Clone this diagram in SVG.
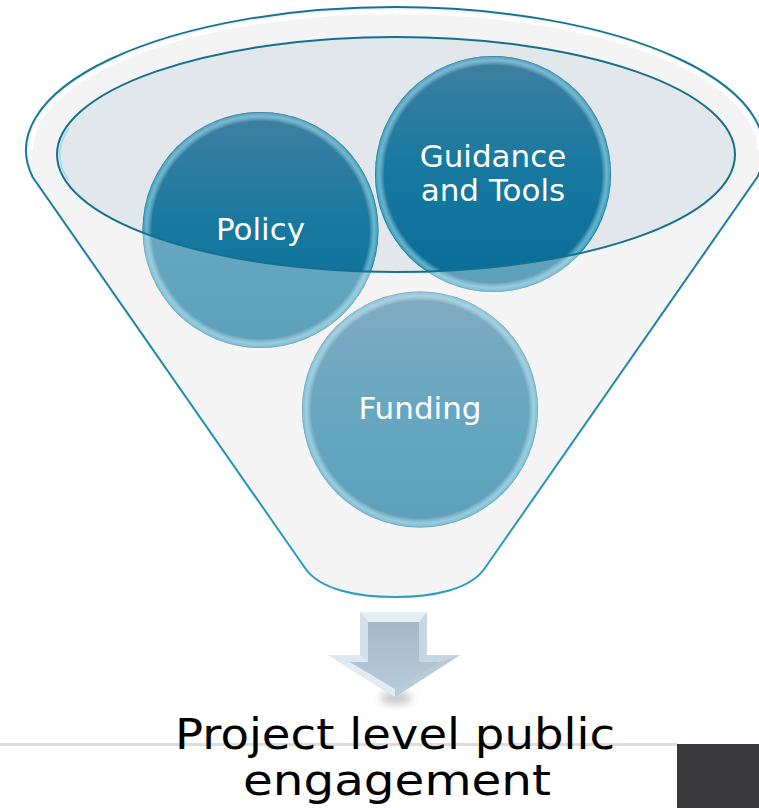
<svg xmlns="http://www.w3.org/2000/svg" width="759" height="808" viewBox="0 0 759 808">
<defs>
<style>
.lbl{font-family:"DejaVu Sans","Liberation Sans",sans-serif;font-size:31px;fill:#ffffff;text-anchor:middle}
.big{font-family:"DejaVu Sans","Liberation Sans",sans-serif;font-size:43px;fill:#000000;text-anchor:middle}
.edge{fill:none;stroke:url(#edgeGrad);stroke-width:2}
</style>
<linearGradient id="edgeGrad" x1="0" y1="0" x2="0" y2="1">
<stop offset="0" stop-color="#147393"/>
<stop offset="0.5" stop-color="#1b82a8"/>
<stop offset="1" stop-color="#2a9ec6"/>
</linearGradient>
<linearGradient id="ball" x1="0" y1="0" x2="0" y2="1">
<stop offset="0" stop-color="#3f80a1"/>
<stop offset="0.5" stop-color="#16789f"/>
<stop offset="1" stop-color="#076d97"/>
</linearGradient>
<radialGradient id="rim" cx="0.5" cy="0.5" r="0.5">
<stop offset="0.92" stop-color="#ffffff" stop-opacity="0"/>
<stop offset="0.965" stop-color="#a8ecfb" stop-opacity="0.55"/>
<stop offset="0.99" stop-color="#7fd8ee" stop-opacity="0.45"/>
<stop offset="1" stop-color="#1d5d7a" stop-opacity="0.45"/>
</radialGradient>
<linearGradient id="face" x1="0" y1="0" x2="0" y2="1">
<stop offset="0" stop-color="#a3b9ca"/>
<stop offset="1" stop-color="#b7cad8"/>
</linearGradient>
<filter id="blur" x="-50%" y="-50%" width="200%" height="200%"><feGaussianBlur stdDeviation="4"/></filter>
</defs>

<!-- background line and dark box -->
<rect x="0" y="743" width="677" height="3" fill="#dcdcdc"/>
<rect x="677" y="744" width="82" height="64" fill="#3a3a3c"/>

<g id="funnel-back">
<path d="M32.6 177 A369 143 0 1 1 757.4 177 L485 568 C470 590 432 597 395 597 C358 597 320 590 305 568 Z" fill="#efefef"/>
<path d="M31 150 A364 138 0 0 1 759 150" fill="none" stroke="#ffffff" stroke-width="4"/>
<ellipse cx="396" cy="154.5" rx="339" ry="117.5" fill="#e2e7eb"/>
</g>

<g id="policy">
<circle cx="260.5" cy="230" r="118" fill="url(#ball)"/>
<circle cx="260.5" cy="230" r="118" fill="url(#rim)"/>
</g>
<g id="guidance">
<circle cx="493" cy="174" r="118" fill="url(#ball)"/>
<circle cx="493" cy="174" r="118" fill="url(#rim)"/>
</g>
<g id="funding">
<circle cx="420" cy="409.5" r="118" fill="url(#ball)"/>
<circle cx="420" cy="409.5" r="118" fill="url(#rim)"/>
</g>

<g id="funnel-front">
<path d="M32.6 177 A369 143 0 1 1 757.4 177 L485 568 C470 590 432 597 395 597 C358 597 320 590 305 568 Z M57 154.5 A339 117.5 0 1 0 735 154.5 A339 117.5 0 1 0 57 154.5 Z" fill="#ffffff" fill-opacity="0.35" fill-rule="evenodd"/>
<path class="edge" d="M32.6 177 A369 143 0 1 1 757.4 177 L485 568 C470 590 432 597 395 597 C358 597 320 590 305 568 Z"/>
<path d="M69 128 A336 114.5 0 0 0 69 181" fill="none" stroke="#8fdcf0" stroke-width="1.5" opacity="0.9"/>
<ellipse cx="396" cy="154.5" rx="339" ry="117.5" fill="none" stroke="#15708f" stroke-width="2"/>
</g>

<g id="labels">
<text class="lbl" x="260.5" y="240">Policy</text>
<text class="lbl" x="493" y="167">Guidance</text>
<text class="lbl" x="493" y="201">and Tools</text>
<text class="lbl" x="420" y="419">Funding</text>
</g>

<g id="connectors">
<ellipse cx="396" cy="698" rx="16" ry="6" fill="#9a9a9a" opacity="0.6" filter="url(#blur)"/>
<polygon points="360,612 427,612 427,655 460,655 395,697 328,655 360,655" fill="#c6d6e2"/>
<polygon points="360,612 427,612 419,622 368,622" fill="#e6eef4"/>
<polygon points="360,612 368,622 368,662 360,655" fill="#d3e0ea"/>
<polygon points="328,655 360,655 368,662 350,662" fill="#dfe9f0"/>
<polygon points="328,655 350,662 395,689 395,697" fill="#e2ebf2"/>
<polygon points="460,655 440,662 395,689 395,697" fill="#b9cbd8"/>
<polygon points="368,622 419,622 419,662 440,662 395,689 350,662 368,662" fill="url(#face)"/>
</g>

<g id="result">
<text class="big" x="395" y="749" textLength="440" lengthAdjust="spacingAndGlyphs">Project level public</text>
<text class="big" x="397" y="795" textLength="308" lengthAdjust="spacingAndGlyphs">engagement</text>
</g>
</svg>
